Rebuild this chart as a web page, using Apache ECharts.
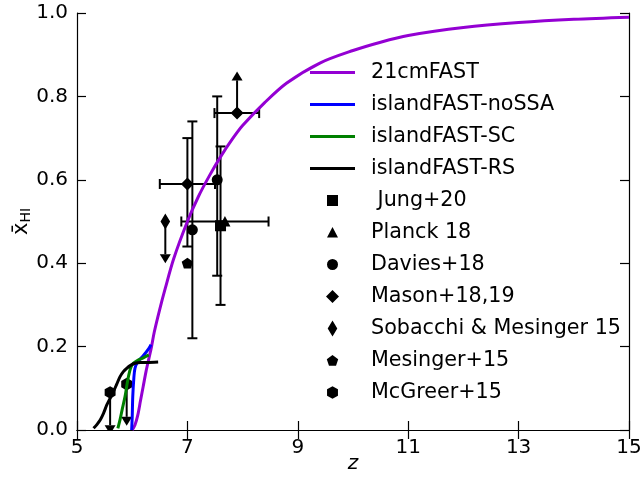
<!DOCTYPE html>
<html>
<head>
<meta charset="utf-8">
<script src="https://cdn.jsdelivr.net/npm/echarts@6/dist/echarts.min.js"></script>
<style>html,body{margin:0;padding:0;background:#fff;}#c{width:644px;height:485px;}</style>
</head>
<body>
<div id="c"></div>
<script>
// ---- Model curves (z, x_HI) ----
const z21cm = [6.0,6.05,6.1,6.15,6.2,6.25,6.3,6.35,6.4,6.5,6.6,6.75,7.0,7.2,7.4,7.6,7.8,8.0,8.4,8.8,9.4,10.0,10.5,11,12,13,14,15];
const x21cm = [0,0.012,0.035,0.07,0.105,0.14,0.17,0.2,0.235,0.29,0.34,0.41,0.50,0.56,0.61,0.655,0.695,0.73,0.785,0.832,0.88,0.91,0.93,0.946,0.965,0.977,0.985,0.99];
const zNoSSA = [5.99,6.0,6.01,6.03,6.05,6.1,6.2,6.3,6.34];
const xNoSSA = [0,0.03,0.08,0.125,0.148,0.163,0.178,0.195,0.205];
const zSC = [5.74,5.78,5.82,5.87,5.92,5.97,6.02,6.1,6.2,6.3];
const xSC = [0.004,0.025,0.05,0.08,0.12,0.148,0.16,0.167,0.173,0.18];
const zRS = [5.3,5.36,5.42,5.48,5.54,5.6,5.66,5.72,5.78,5.84,5.9,5.97,6.05,6.15,6.26,6.47];
const xRS = [0.004,0.013,0.024,0.04,0.06,0.076,0.092,0.11,0.128,0.14,0.148,0.155,0.16,0.162,0.162,0.163];

// ---- Observations ----
const jungZ = [7.6], jungX = [0.49], jungXErrLo = [0.19], jungXErrHi = [0.19];
const planckZ = [7.68], planckX = [0.5], planckZErrLo = [0.79], planckZErrHi = [0.79];
const daviesZ = [7.09, 7.54], daviesX = [0.48, 0.60], daviesXErrLo = [0.26, 0.23], daviesXErrHi = [0.26, 0.20];
const masonZ = [7.0, 7.9], masonX = [0.59, 0.76];
const masonZErrLo = [0.5, 0.41], masonZErrHi = [0.5, 0.40];
const masonXErrLo = [0.15, null], masonXErrHi = [0.11, null];
const masonLowerLimit = [false, true];
const sobacchiZ = [6.6], sobacchiX = [0.5];          // upper limit
const mesingerZ = [7.0], mesingerX = [0.40];
const mcgreerZ = [5.6, 5.9], mcgreerX = [0.09, 0.11]; // upper limits
const limitLength = 0.1;

// axis ticks
const xTicks = [5, 7, 9, 11, 13, 15];
const yTicks = [0.0, 0.2, 0.4, 0.6, 0.8, 1.0];

// ---- marker shapes (16x16 box) ----
const BOX = 'M0,0L0,0ZM16,16L16,16Z';
const SYM = {
  square: 'path://' + BOX + 'M2.5,2.5L13.5,2.5L13.5,13.5L2.5,13.5Z',
  triangle: 'path://' + BOX + 'M8,2.5L13.5,13L2.5,13Z',
  circle: 'path://' + BOX + 'M13.5,8A5.5,5.5,0,1,1,2.5,8A5.5,5.5,0,1,1,13.5,8Z',
  diamond: 'path://' + BOX + 'M8,1.5L14.5,8L8,14.5L1.5,8Z',
  thin: 'path://' + BOX + 'M8,0L12.8,8L8,16L3.2,8Z',
  pentagon: 'path://' + BOX + 'M8,2.5L13.71,6.65L11.53,13.35L4.47,13.35L2.29,6.65Z',
  hexagon: 'path://' + BOX + 'M8,1.7L13.46,4.85L13.46,11.15L8,14.3L2.54,11.15L2.54,4.85Z'
};
const LINE_ICON = 'path://M0,0L45,0L45,3L0,3Z';

function zip(a, b) { return a.map((v, i) => [v, b[i]]); }

// error bar items: [z, x, zlo, zhi, xlo, xhi]
const errItems = [];
jungZ.forEach((z, i) => errItems.push([z, jungX[i], '-', '-', jungX[i] - jungXErrLo[i], jungX[i] + jungXErrHi[i]]));
planckZ.forEach((z, i) => errItems.push([z, planckX[i], z - planckZErrLo[i], z + planckZErrHi[i], '-', '-']));
daviesZ.forEach((z, i) => errItems.push([z, daviesX[i], '-', '-', daviesX[i] - daviesXErrLo[i], daviesX[i] + daviesXErrHi[i]]));
masonZ.forEach((z, i) => errItems.push([z, masonX[i], z - masonZErrLo[i], z + masonZErrHi[i],
  masonXErrLo[i] == null ? '-' : masonX[i] - masonXErrLo[i], masonXErrHi[i] == null ? '-' : masonX[i] + masonXErrHi[i]]));

// limit arrows: [z, x, tip]
const arrowItems = [];
masonZ.forEach((z, i) => { if (masonLowerLimit[i]) arrowItems.push([z, masonX[i], masonX[i] + limitLength]); });
sobacchiZ.forEach((z, i) => arrowItems.push([z, sobacchiX[i], sobacchiX[i] - limitLength]));
mcgreerZ.forEach((z, i) => arrowItems.push([z, mcgreerX[i], mcgreerX[i] - limitLength]));

const ERR_W = 2, CAP = 5;
function lineEl(a, b) {
  return { type: 'line', shape: { x1: a[0], y1: a[1], x2: b[0], y2: b[1] }, style: { stroke: '#000', lineWidth: ERR_W } };
}
function renderErr(params, api) {
  const z = api.value(0), x = api.value(1);
  const zlo = api.value(2), zhi = api.value(3), xlo = api.value(4), xhi = api.value(5);
  const ch = [];
  if (!isNaN(xlo)) {
    const a = api.coord([z, xlo]), b = api.coord([z, xhi]);
    ch.push(lineEl(a, b));
    ch.push(lineEl([a[0] - CAP, a[1]], [a[0] + CAP, a[1]]));
    ch.push(lineEl([b[0] - CAP, b[1]], [b[0] + CAP, b[1]]));
  }
  if (!isNaN(zlo)) {
    const a = api.coord([zlo, x]), b = api.coord([zhi, x]);
    ch.push(lineEl(a, b));
    ch.push(lineEl([a[0], a[1] - CAP], [a[0], a[1] + CAP]));
    ch.push(lineEl([b[0], b[1] - CAP], [b[0], b[1] + CAP]));
  }
  return { type: 'group', children: ch };
}
function renderArrow(params, api) {
  const z = api.value(0), x = api.value(1), tip = api.value(2);
  const a = api.coord([z, x]), t = api.coord([z, tip]);
  const dir = t[1] > a[1] ? 1 : -1;
  const hh = 9, hw = 5.5;
  const base = t[1] - dir * hh;
  return { type: 'group', children: [
    lineEl(a, [t[0], base]),
    { type: 'polygon', shape: { points: [[t[0], t[1]], [t[0] - hw, base], [t[0] + hw, base]] }, style: { fill: '#000' } }
  ]};
}

const FONT = 'DejaVu Sans';
const chart = echarts.init(document.getElementById('c'), null, { renderer: 'canvas' });

function scatter(name, zs, xs, sym) {
  return { name, type: 'scatter', data: zip(zs, xs), symbol: sym, symbolSize: 16, symbolKeepAspect: true,
    itemStyle: { color: '#000', opacity: 1 }, z: 4, silent: true };
}
function model(name, zs, xs, color) {
  return { name, type: 'line', data: zip(zs, xs), symbol: 'none', smooth: 0.3,
    lineStyle: { color, width: 3 }, itemStyle: { color }, z: 5, silent: true };
}
const lineNames = ['21cmFAST', 'islandFAST-noSSA', 'islandFAST-SC', 'islandFAST-RS'];
const markerNames = [' Jung+20', 'Planck 18', 'Davies+18', 'Mason+18,19', 'Sobacchi & Mesinger 15', 'Mesinger+15', 'McGreer+15'];

chart.setOption({
  animation: false,
  grid: { left: 77, right: 15, top: 13, bottom: 55, outerBoundsMode: 'none', containLabel: false },
  xAxis: [{
    type: 'value', min: 5, max: 15, interval: 2,
    name: 'z', nameLocation: 'middle', nameGap: 24, nameMoveOverlap: false,
    nameTextStyle: { fontFamily: FONT, fontSize: 20, fontStyle: 'italic', color: '#000' },
    axisLine: { show: true, lineStyle: { color: '#000', width: 1.2 } },
    axisTick: { show: true, inside: true, length: 9, lineStyle: { color: '#000', width: 1.2 } },
    axisLabel: { fontFamily: FONT, fontSize: 20, color: '#000', margin: 8,
      formatter: (v) => xTicks.indexOf(v) >= 0 ? String(v) : '' },
    splitLine: { show: false }
  }, {
    type: 'value', min: 5, max: 15, interval: 2, position: 'top',
    axisLine: { show: true, lineStyle: { color: '#000', width: 1.2 } },
    axisTick: { show: true, inside: true, length: 9, lineStyle: { color: '#000', width: 1.2 } },
    axisLabel: { show: false }, splitLine: { show: false }
  }],
  yAxis: [{
    type: 'value', min: 0, max: 1, interval: 0.2,
    name: '{x|x\u0304}{s|HI}', nameLocation: 'middle', nameGap: 44, nameRotate: 90, nameMoveOverlap: false,
    nameTextStyle: { fontFamily: FONT, color: '#000',
      rich: {
        x: { fontFamily: FONT, fontSize: 21, color: '#000', verticalAlign: 'top', lineHeight: 22 },
        s: { fontFamily: FONT, fontSize: 14, color: '#000', verticalAlign: 'bottom', lineHeight: 14, padding: [12, 0, 0, 0] }
      } },
    axisLine: { show: true, lineStyle: { color: '#000', width: 1.2 } },
    axisTick: { show: true, inside: true, length: 9, lineStyle: { color: '#000', width: 1.2 } },
    axisLabel: { fontFamily: FONT, fontSize: 20, color: '#000', margin: 9,
      formatter: (v) => yTicks.some(t => Math.abs(t - v) < 1e-9) ? v.toFixed(1) : '' },
    splitLine: { show: false }
  }, {
    type: 'value', min: 0, max: 1, interval: 0.2, position: 'right',
    axisLine: { show: true, lineStyle: { color: '#000', width: 1.2 } },
    axisTick: { show: true, inside: true, length: 9, lineStyle: { color: '#000', width: 1.2 } },
    axisLabel: { show: false }, splitLine: { show: false }
  }],
  legend: {
    left: 305, top: 57, orient: 'vertical', itemWidth: 45, itemHeight: 16, itemGap: 11,
    selectedMode: false,
    itemStyle: { borderWidth: 0 },
    textStyle: { fontFamily: FONT, fontSize: 20.7, color: '#000', lineHeight: 20, padding: [0, 0, 0, 11] },
    data: lineNames.map(n => ({ name: n, icon: LINE_ICON })).concat(markerNames)
  },
  series: [
    { type: 'custom', renderItem: renderErr, data: errItems, z: 3, silent: true, clip: true,
      encode: { x: [0, 2, 3], y: [1, 4, 5] } },
    { type: 'custom', renderItem: renderArrow, data: arrowItems, z: 3, silent: true, clip: true,
      encode: { x: 0, y: [1, 2] } },
    scatter(markerNames[0], jungZ, jungX, SYM.square),
    scatter(markerNames[1], planckZ, planckX, SYM.triangle),
    scatter(markerNames[2], daviesZ, daviesX, SYM.circle),
    scatter(markerNames[3], masonZ, masonX, SYM.diamond),
    scatter(markerNames[4], sobacchiZ, sobacchiX, SYM.thin),
    scatter(markerNames[5], mesingerZ, mesingerX, SYM.pentagon),
    scatter(markerNames[6], mcgreerZ, mcgreerX, SYM.hexagon),
    model(lineNames[0], z21cm, x21cm, '#9400D3'),
    model(lineNames[1], zNoSSA, xNoSSA, '#0000FF'),
    model(lineNames[2], zSC, xSC, '#008000'),
    model(lineNames[3], zRS, xRS, '#000000')
  ]
});
</script>
</body>
</html>
